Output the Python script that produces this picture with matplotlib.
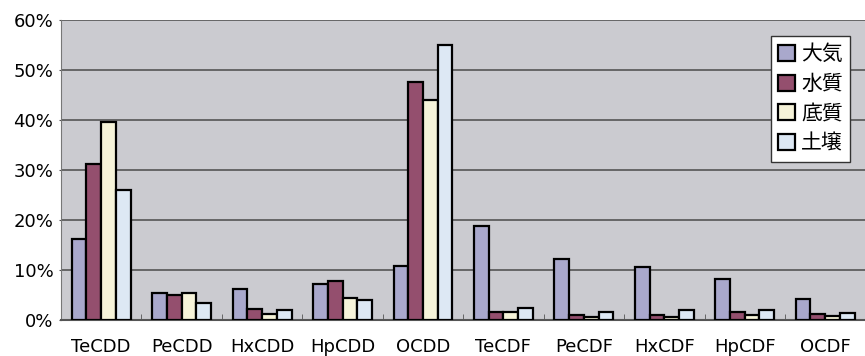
import matplotlib
matplotlib.use("Agg")
import matplotlib.pyplot as plt
import numpy as np
from matplotlib.ticker import FixedLocator, PercentFormatter

plt.rcParams['font.family'] = ['DejaVu Sans', 'Noto Sans CJK JP']

categories = ["TeCDD", "PeCDD", "HxCDD", "HpCDD", "OCDD",
              "TeCDF", "PeCDF", "HxCDF", "HpCDF", "OCDF"]
series_names = ["大気", "水質", "底質", "土壌"]
air = [16.3, 5.5, 6.3, 7.3, 10.9, 18.8, 12.3, 10.7, 8.3, 4.3]
water = [31.3, 5.0, 2.3, 7.9, 47.6, 1.7, 1.0, 1.0, 1.7, 1.3]
sediment = [39.7, 5.5, 1.3, 4.5, 44.0, 1.6, 0.7, 0.7, 1.0, 0.9]
soil = [26.0, 3.5, 2.0, 4.1, 55.1, 2.5, 1.7, 2.0, 2.0, 1.5]
colors = ["#a9a8cc", "#944f6e", "#f6f3d9", "#dde8f4"]

fig = plt.figure(figsize=(8.65, 3.56), dpi=100)
ax = fig.add_axes([0.0705, 0.1011, 0.93, 0.8427])
ax.set_facecolor("#cbcbd0")

x = np.arange(len(categories))
width = 0.183
for i, (vals, col, name) in enumerate(zip([air, water, sediment, soil], colors, series_names)):
    ax.bar(x + (i - 1.5) * width, vals, width, color=col, edgecolor="black",
           linewidth=1.6, label=name, zorder=3)

ax.set_xlim(-0.5, len(categories) - 0.5)
ax.set_ylim(0, 60)
ax.set_yticks(range(0, 61, 10))
ax.yaxis.set_major_formatter(PercentFormatter(decimals=0))
ax.yaxis.grid(True, color="#555555", linewidth=1.2, zorder=1)
ax.set_xticks(x)
ax.set_xticklabels(categories)
ax.xaxis.set_minor_locator(FixedLocator(np.arange(0.5, len(categories) - 1, 1)))
ax.tick_params(axis="x", which="major", length=0, pad=13, labelsize=13)
ax.tick_params(axis="x", which="minor", direction="in", length=4, color="#555555")
ax.tick_params(axis="y", length=1.5, color="#555555", labelsize=13, pad=4)

for side in ["top", "right"]:
    ax.spines[side].set_visible(False)
ax.spines["left"].set_color("#777777")
ax.spines["bottom"].set_color("#555555")
ax.spines["bottom"].set_linewidth(1.5)

leg = ax.legend(loc="upper right", bbox_to_anchor=(0.981, 0.947), fontsize=15,
                frameon=True, fancybox=False, edgecolor="#333333", framealpha=1,
                handlelength=0.8, handleheight=0.8, handletextpad=0.3,
                labelspacing=0.37, borderpad=0.35, borderaxespad=0)
leg.get_frame().set_linewidth(1)
for t in leg.get_texts():
    t.set_family(['Noto Sans CJK JP'])

fig.savefig("out.png", dpi=100, facecolor="white")
